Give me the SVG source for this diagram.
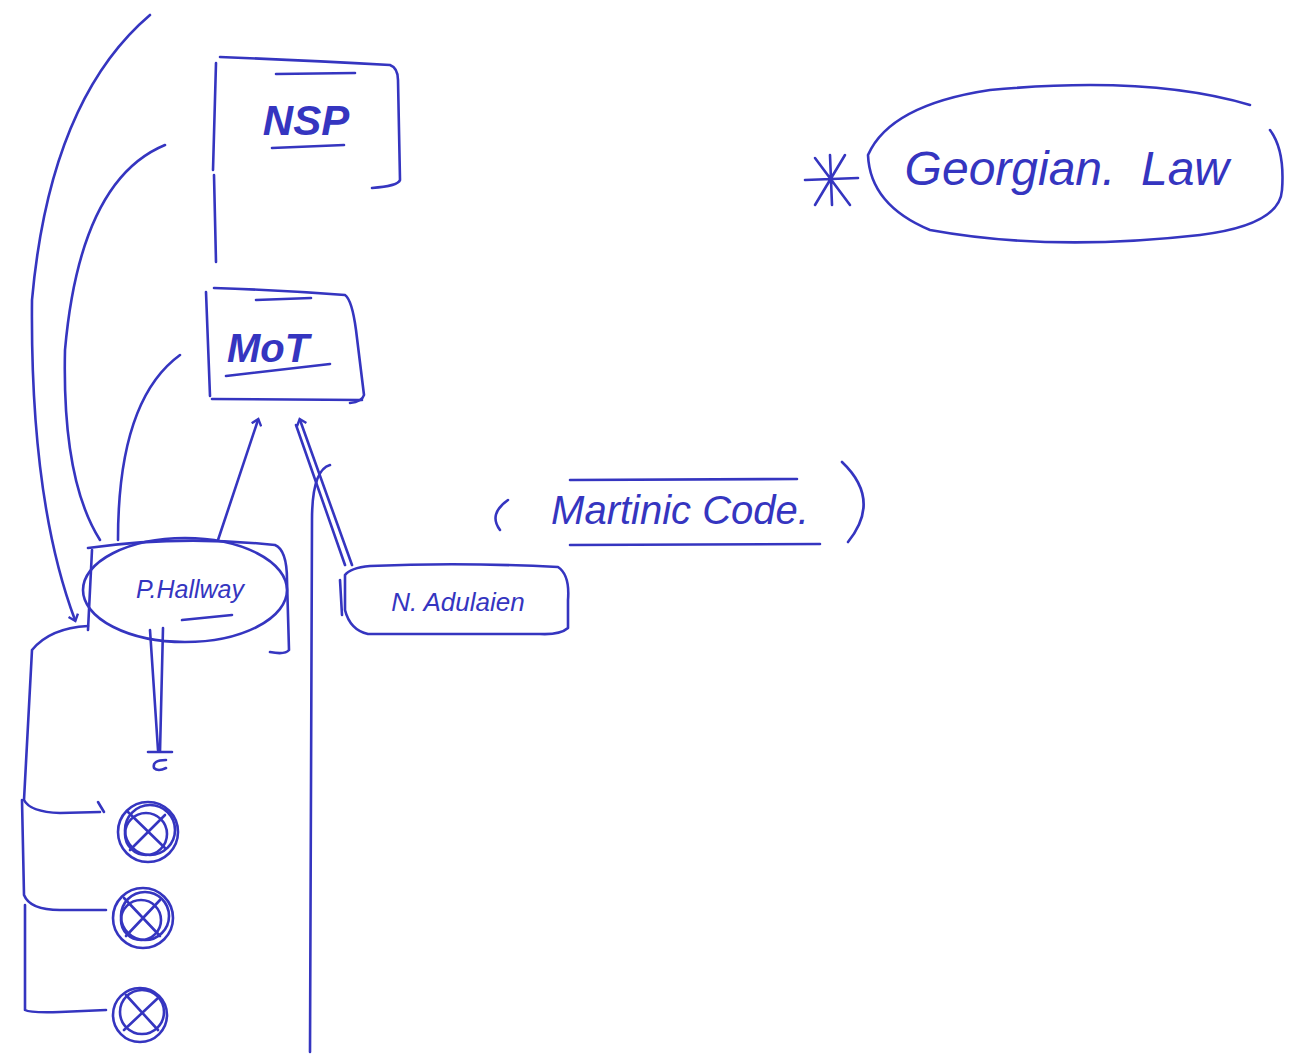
<svg xmlns="http://www.w3.org/2000/svg" width="1289" height="1057" viewBox="0 0 1289 1057">
<style>
.p{fill:none;stroke:#3535c0;stroke-width:2.6;stroke-linecap:round;stroke-linejoin:round}
.t{fill:#3535c0;font-family:"Liberation Sans",Arial,sans-serif;font-style:italic}
</style>
<defs>
<marker id="ah" markerWidth="12" markerHeight="12" refX="6" refY="6" orient="auto" markerUnits="userSpaceOnUse">
<path d="M1,1 L7,6 L1,11" fill="none" stroke="#3535c0" stroke-width="2.4"/>
</marker>
</defs>
<rect width="1289" height="1057" fill="#fff"/>
<g id="nsp">
<path class="p" d="M220,57 Q300,60 390,65 Q398,68 398,80 L400,180 Q398,186 372,188"/>
<path class="p" d="M216,63 L213,170"/>
<line class="p" x1="276" y1="74" x2="355" y2="73"/>
<line class="p" x1="272" y1="148" x2="344" y2="145"/>
<text class="t" x="306" y="135" font-size="42" text-anchor="middle" font-weight="bold">NSP</text>
</g>
<g id="mot">
<path class="p" d="M206,292 L210,396"/>
<path class="p" d="M214,288 Q280,290 345,295 Q352,300 356,330 L364,395 Q362,402 350,403"/>
<path class="p" d="M212,399 L362,400"/>
<line class="p" x1="256" y1="300" x2="311" y2="298"/>
<line class="p" x1="226" y1="376" x2="330" y2="364"/>
<text class="t" x="268" y="362" font-size="40" text-anchor="middle" font-weight="bold">MoT</text>
</g>
<g id="phal">
<path class="p" d="M88,548 Q180,535 275,545 Q287,550 287,580 L289,650 Q285,655 270,652"/>
<path class="p" d="M92,550 L88,630"/>
<ellipse class="p" cx="185" cy="590" rx="102" ry="52"/>
<line class="p" x1="182" y1="620" x2="232" y2="615"/>
<text class="t" x="190" y="598" font-size="25" text-anchor="middle">P.Hallway</text>
</g>
<g id="nadu">
<path class="p" d="M345,575 Q350,568 370,566 Q460,562 558,567 Q570,575 568,600 L568,628 Q560,635 540,634 L368,634 Q350,630 345,610 Z"/>
<path class="p" d="M340,580 L342,615"/>
<text class="t" x="458" y="611" font-size="26" text-anchor="middle">N. Adulaien</text>
</g>
<g id="code">
<path class="p" d="M508,500 Q488,514 500,530"/>
<line class="p" x1="570" y1="480" x2="797" y2="479"/>
<line class="p" x1="570" y1="545" x2="820" y2="544"/>
<path class="p" d="M842,462 Q882,500 848,542"/>
<text class="t" x="680" y="524" font-size="40" text-anchor="middle">Martinic Code.</text>
</g>
<g id="georgian">
<path class="p" d="M1250,105 Q1150,75 990,90 Q890,105 868,155 Q870,205 930,230 Q1050,252 1200,235 Q1280,225 1282,190 Q1285,150 1270,130"/>
<path class="p" d="M805,180 L858,178 M815,158 L850,205 M845,155 L815,205 M830,155 L832,205"/>
<text class="t" x="1010" y="185" font-size="48" text-anchor="middle">Georgian.</text>
<text class="t" x="1185" y="185" font-size="48" text-anchor="middle">Law</text>
</g>
<g id="circles">
<g><circle class="p" cx="148" cy="832" r="30"/><circle class="p" cx="150" cy="830" r="25"/><circle class="p" cx="146" cy="834" r="21"/><path class="p" d="M128,812 L165,848 M130,850 L165,815"/></g>
<g><circle class="p" cx="143" cy="918" r="30"/><circle class="p" cx="145" cy="916" r="24"/><circle class="p" cx="141" cy="920" r="20"/><path class="p" d="M124,898 L160,936 M126,936 L160,900"/></g>
<g><circle class="p" cx="140" cy="1015" r="27"/><circle class="p" cx="142" cy="1012" r="22"/><path class="p" d="M126,995 L158,1030 M124,1030 L158,998"/></g>
</g>
<g id="connectors">
<path class="p" d="M214,175 L216,262"/>
<path class="p" d="M150,15 Q50,100 32,300 Q30,500 75,620" marker-end="url(#ah)"/>
<path class="p" d="M165,145 Q80,180 65,350 Q62,480 100,540"/>
<path class="p" d="M180,355 Q118,400 118,540"/>
<path class="p" d="M218,540 L258,420" marker-end="url(#ah)"/>
<path class="p" d="M352,565 L300,420" marker-end="url(#ah)"/>
<path class="p" d="M345,565 L296,425"/>
<path class="p" d="M330,465 Q312,470 312,520 L310,1052"/>
<path class="p" d="M150,630 L158,750 M163,628 L160,752 M148,752 L172,752"/>
<path class="p" d="M166,760 Q152,760 154,768 Q158,772 166,768"/>
<path class="p" d="M88,626 Q50,628 32,650 L24,800 Q30,812 60,813 L100,812"/>
<path class="p" d="M98,802 L104,812"/>
<path class="p" d="M22,800 L24,895 Q30,910 60,910 L106,910"/>
<path class="p" d="M25,905 L25,1010 Q30,1013 60,1012 L106,1010"/>
</g>
</svg>
